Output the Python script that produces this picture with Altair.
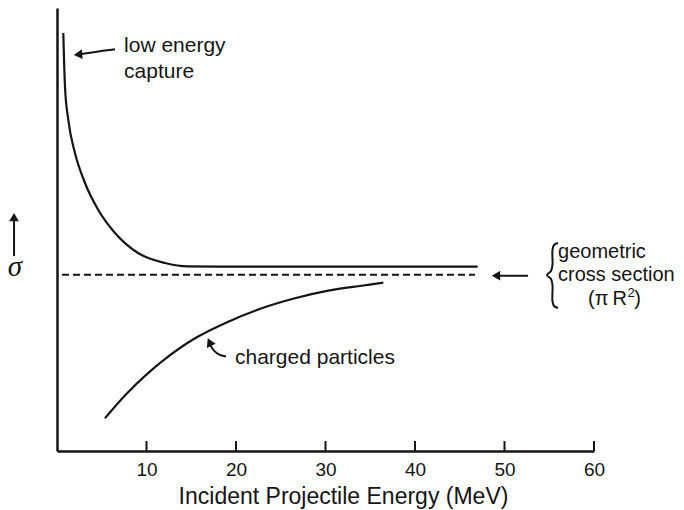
import altair as alt
import pandas as pd

INK = "#151515"
FONT = "Liberation Sans"

# ---- data (x: MeV, y: arbitrary sigma units 0..100) ----
low_x = [0.704, 0.894, 1.263, 2.011, 3.128, 4.615, 6.48, 9.05, 12.07, 14.64, 20.0, 30.0, 47.0]
low_y = [94.36, 82.17, 74.72, 67.27, 60.50, 54.40, 49.21, 44.70, 42.44, 41.68, 41.62, 41.6, 41.6]

charged_x = [5.36, 7.97, 11.70, 15.42, 19.14, 22.87, 26.59, 30.31, 34.04, 36.46]
charged_y = [7.38, 13.32, 20.16, 25.44, 29.19, 32.21, 34.47, 36.19, 37.31, 37.99]

geo_x = [0.56, 46.7]
geo_y = [39.8, 39.8]

tick_values = [10, 20, 30, 40, 50, 60]

# annotation arrows (shafts)
arrow_id = ["low", "low", "low", "low",
            "chg", "chg", "chg", "chg", "chg",
            "geo", "geo", "sig", "sig"]
arrow_x = [2.35, 3.3, 4.25, 6.48,
           17.04, 17.15, 17.54, 18.1, 18.88,
           49.05, 52.63, -4.8, -4.8]
arrow_y = [89.5, 89.8, 90.1, 90.7,
           24.6, 23.7, 22.57, 21.67, 21.33,
           39.57, 39.57, 52.8, 44.0]

# arrow heads
head_x = [2.35, 17.04, 49.05, -4.8]
head_y = [89.5, 24.6, 39.57, 52.8]
head_shape = ["triangle-left", "triangle-up", "triangle-left", "triangle-up"]
head_angle = [355, 335, 0, 0]

# brace
brace_x = [55.98, 55.53, 55.36, 55.36, 55.20, 54.75, 55.20, 55.36, 55.36, 55.53, 55.98]
brace_y = [46.95, 46.50, 45.37, 41.99, 40.63, 39.73, 38.83, 37.47, 33.86, 32.73, 32.28]

# texts
label_text = ["low energy", "capture", "charged particles"]
label_x = [7.49, 7.49, 19.89]
label_y = [91.4, 85.55, 21.0]

geo_text = ["geometric", "cross section"]
geo_tx = [55.98, 55.98]
geo_ty = [44.9, 39.7]

X = alt.Scale(domain=[0, 60], nice=False, zero=False)
Y = alt.Scale(domain=[0, 100], nice=False, zero=False)

x_axis = alt.Axis(
    values=tick_values, ticks=False, grid=False, domainColor=INK, domainWidth=2.5,
    labelFont=FONT, labelFontSize=19, labelColor=INK, labelPadding=9, labelFlush=False,
    title="Incident Projectile Energy (MeV)", titleFont=FONT, titleFontSize=23,
    titleFontWeight="normal", titleColor=INK, titleBaseline="alphabetic",
    titleY=52, titleX=286, titleAlign="center",
)
y_axis = alt.Axis(labels=False, ticks=False, grid=False, title="", domainColor=INK, domainWidth=2.5)


def xe():
    return alt.X("x:Q", scale=X, axis=x_axis)


def ye():
    return alt.Y("y:Q", scale=Y, axis=y_axis)


low = alt.Chart(pd.DataFrame({"x": low_x, "y": low_y})).mark_line(
    color=INK, strokeWidth=2.2, interpolate="monotone"
).encode(x=xe(), y=ye())

charged = alt.Chart(pd.DataFrame({"x": charged_x, "y": charged_y})).mark_line(
    color=INK, strokeWidth=2.2, interpolate="catmull-rom"
).encode(x=xe(), y=ye())

geo = alt.Chart(pd.DataFrame({"x": geo_x, "y": geo_y})).mark_line(
    color=INK, strokeWidth=2, strokeDash=[7, 4]
).encode(x=xe(), y=ye())

ticks = alt.Chart(pd.DataFrame({"x": tick_values})).mark_rule(
    color=INK, strokeWidth=2
).encode(x=xe(), y=alt.value(443), y2=alt.value(433))

arrow_df = pd.DataFrame({"x": arrow_x, "y": arrow_y, "id": arrow_id, "o": list(range(len(arrow_x)))})
shafts = alt.Chart(arrow_df).mark_line(
    color=INK, strokeWidth=2, interpolate="basis"
).encode(x=xe(), y=ye(), detail="id:N", order="o:Q")

heads = alt.Chart(pd.DataFrame({"x": head_x, "y": head_y, "s": head_shape, "a": head_angle})).mark_point(
    filled=True, opacity=1, color=INK, size=95
).encode(x=xe(), y=ye(), shape=alt.Shape("s:N", scale=None), angle=alt.Angle("a:Q", scale=None))

brace = alt.Chart(pd.DataFrame({"x": brace_x, "y": brace_y, "o": list(range(len(brace_x)))})).mark_line(
    color=INK, strokeWidth=2, interpolate="catmull-rom"
).encode(x=xe(), y=ye(), order="o:Q")

labels = alt.Chart(pd.DataFrame({"x": label_x, "y": label_y, "t": label_text})).mark_text(
    align="left", baseline="middle", font=FONT, fontSize=21, color=INK
).encode(x=xe(), y=ye(), text="t:N")

geo_labels = alt.Chart(pd.DataFrame({"x": geo_tx, "y": geo_ty, "t": geo_text})).mark_text(
    align="left", baseline="middle", font=FONT, fontSize=20, color=INK
).encode(x=xe(), y=ye(), text="t:N")

pi_main = alt.Chart(pd.DataFrame({"x": [63.69], "y": [34.2], "t": ["(π\u2009R"]})).mark_text(
    align="right", baseline="middle", font=FONT, fontSize=20, color=INK
).encode(x=xe(), y=ye(), text="t:N")
pi_sup = alt.Chart(pd.DataFrame({"x": [63.74], "y": [35.7], "t": ["2"]})).mark_text(
    align="left", baseline="middle", font=FONT, fontSize=13, color=INK
).encode(x=xe(), y=ye(), text="t:N")
pi_close = alt.Chart(pd.DataFrame({"x": [64.5], "y": [34.2], "t": [")"]})).mark_text(
    align="left", baseline="middle", font=FONT, fontSize=20, color=INK
).encode(x=xe(), y=ye(), text="t:N")

sigma = alt.Chart(pd.DataFrame({"x": [-4.7], "y": [41.6], "t": ["σ"]})).mark_text(
    align="center", baseline="middle", font="Liberation Serif", fontStyle="italic", fontSize=29, color=INK
).encode(x=xe(), y=ye(), text="t:N")

chart = alt.layer(
    low, charged, geo, ticks, shafts, heads, brace, labels, geo_labels, pi_main, pi_sup, pi_close, sigma
).properties(
    width=537, height=443,
    autosize=alt.AutoSizeParams(type="none"),
    padding={"left": 49, "top": 0, "right": 82, "bottom": 59},
    background="white",
).configure_view(strokeWidth=0)

chart.save("out.html", embed_options={"renderer": "svg", "actions": False})
